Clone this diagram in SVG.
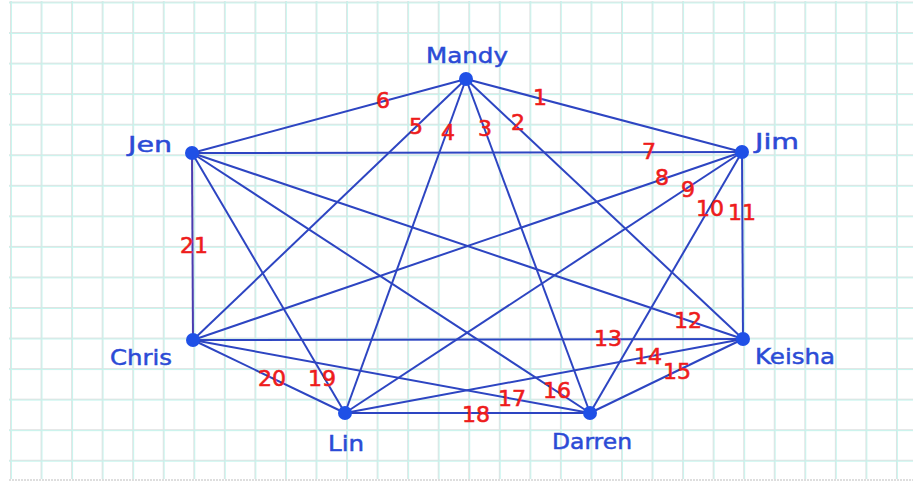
<svg xmlns="http://www.w3.org/2000/svg" width="919" height="483" viewBox="0 0 919 483">
<defs>
<pattern id="grid" x="10" y="1.5" width="30.55" height="30.55" patternUnits="userSpaceOnUse">
<path d="M0 0V30.55M0 0H30.55" fill="none" stroke="#e0e3e3" stroke-width="2"/>
<path d="M1.5 0V30.55M0 1.5H30.55" fill="none" stroke="#bff5ec" stroke-width="1" opacity="0.85"/>
</pattern>
<style>
.edge{stroke:#2d45c2;stroke-width:2;fill:none}
.dot{fill:#1f50e6}
.name{font-family:"DejaVu Sans","Liberation Sans",sans-serif;font-size:22px;fill:#2b4bd6;stroke:#2b4bd6;stroke-width:0.5;text-anchor:middle}
.num{font-family:"DejaVu Sans","Liberation Sans",sans-serif;font-size:22px;fill:#ee1c1c;stroke:#ee1c1c;stroke-width:0.6;text-anchor:middle}
</style>
</defs>
<rect width="919" height="483" fill="#ffffff"/>
<rect x="9" y="1" width="904" height="478" fill="url(#grid)"/>
<line x1="9" y1="480" x2="913" y2="480" stroke="#bdbdbd" stroke-width="1" stroke-dasharray="2 1"/>
<g id="connectors">
<line class="edge" x1="466" y1="79" x2="742" y2="152"/>
<line class="edge" x1="466" y1="79" x2="743" y2="339"/>
<line class="edge" x1="466" y1="79" x2="590" y2="413"/>
<line class="edge" x1="466" y1="79" x2="345" y2="413"/>
<line class="edge" x1="466" y1="79" x2="193" y2="340"/>
<line class="edge" x1="466" y1="79" x2="192" y2="153"/>
<line class="edge" x1="192" y1="153" x2="742" y2="152"/>
<line class="edge" x1="742" y1="152" x2="193" y2="340"/>
<line class="edge" x1="742" y1="152" x2="345" y2="413"/>
<line class="edge" x1="742" y1="152" x2="590" y2="413"/>
<line class="edge" x1="742" y1="152" x2="743" y2="339"/>
<line class="edge" x1="192" y1="153" x2="743" y2="339"/>
<line class="edge" x1="193" y1="340" x2="743" y2="339"/>
<line class="edge" x1="345" y1="413" x2="743" y2="339"/>
<line class="edge" x1="590" y1="413" x2="743" y2="339"/>
<line class="edge" x1="192" y1="153" x2="590" y2="413"/>
<line class="edge" x1="193" y1="340" x2="590" y2="413"/>
<line class="edge" x1="345" y1="413" x2="590" y2="413"/>
<line class="edge" x1="192" y1="153" x2="345" y2="413"/>
<line class="edge" x1="193" y1="340" x2="345" y2="413"/>
<line class="edge" x1="192" y1="153" x2="193" y2="340" style="stroke:#4a3cb0"/>
</g>
<g id="edge-labels">
<text class="num" x="540" y="105">1</text>
<text class="num" x="518" y="130">2</text>
<text class="num" x="485" y="136">3</text>
<text class="num" x="448" y="140">4</text>
<text class="num" x="416" y="134">5</text>
<text class="num" x="383" y="108">6</text>
<text class="num" x="649" y="159">7</text>
<text class="num" x="662" y="185">8</text>
<text class="num" x="688" y="197">9</text>
<text class="num" x="710" y="216">10</text>
<text class="num" x="742" y="220">11</text>
<text class="num" x="688" y="328">12</text>
<text class="num" x="608" y="346">13</text>
<text class="num" x="648" y="364">14</text>
<text class="num" x="677" y="379">15</text>
<text class="num" x="557" y="398">16</text>
<text class="num" x="512" y="406">17</text>
<text class="num" x="476" y="422">18</text>
<text class="num" x="322" y="386">19</text>
<text class="num" x="272" y="386">20</text>
<text class="num" x="194" y="253">21</text>
</g>
<g id="node-mandy"><circle class="dot" cx="466" cy="79" r="7"/><text class="name" x="467" y="63" textLength="82" lengthAdjust="spacingAndGlyphs">Mandy</text></g>
<g id="node-jen"><circle class="dot" cx="192" cy="153" r="7"/><text class="name" x="150" y="152" textLength="44" lengthAdjust="spacingAndGlyphs">Jen</text></g>
<g id="node-jim"><circle class="dot" cx="742" cy="152" r="7"/><text class="name" x="777" y="149" textLength="44" lengthAdjust="spacingAndGlyphs">Jim</text></g>
<g id="node-chris"><circle class="dot" cx="193" cy="340" r="7"/><text class="name" x="141" y="365" textLength="62" lengthAdjust="spacingAndGlyphs">Chris</text></g>
<g id="node-keisha"><circle class="dot" cx="743" cy="339" r="7"/><text class="name" x="795" y="364" textLength="80" lengthAdjust="spacingAndGlyphs">Keisha</text></g>
<g id="node-lin"><circle class="dot" cx="345" cy="413" r="7"/><text class="name" x="346" y="451" textLength="36" lengthAdjust="spacingAndGlyphs">Lin</text></g>
<g id="node-darren"><circle class="dot" cx="590" cy="413" r="7"/><text class="name" x="592" y="449" textLength="80" lengthAdjust="spacingAndGlyphs">Darren</text></g>
</svg>
